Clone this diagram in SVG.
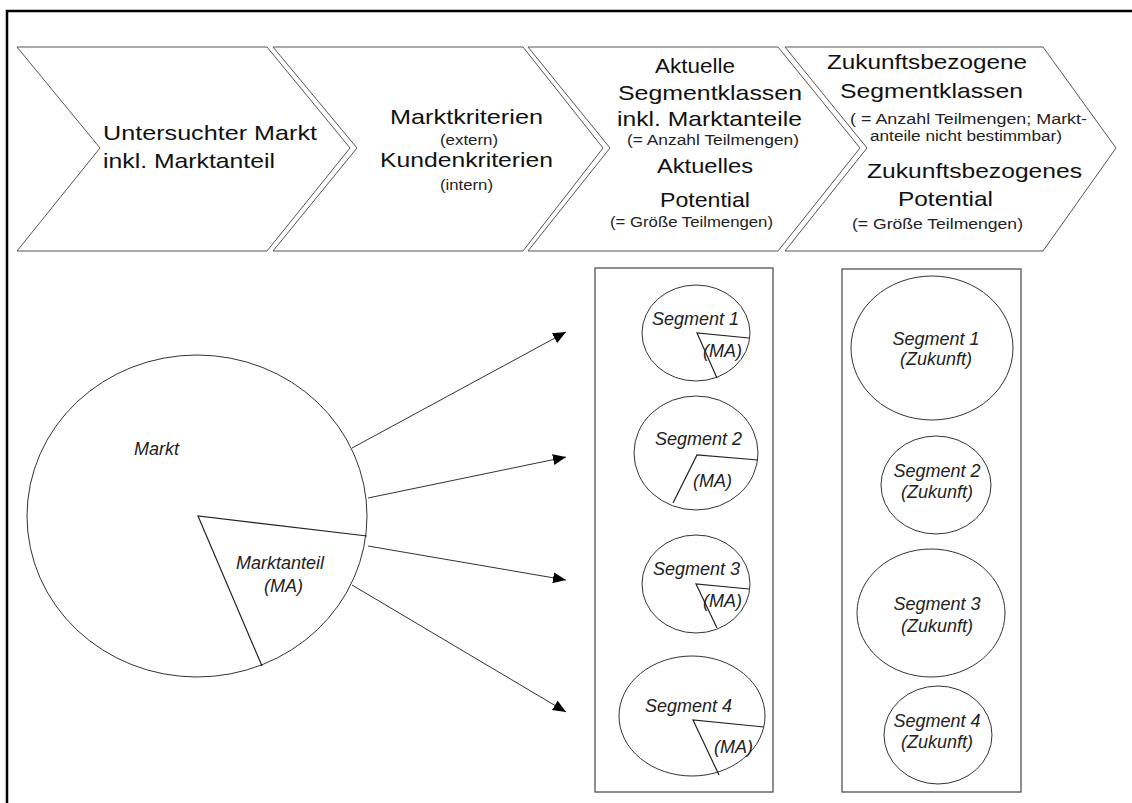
<svg xmlns="http://www.w3.org/2000/svg" width="1132" height="803" viewBox="0 0 1132 803">
<style>
  .bg{fill:#fff}
  .frame{fill:none;stroke:#000;stroke-width:2.5}
  .chev{fill:#fff;stroke:#555;stroke-width:1}
  .shape{fill:#fff;stroke:#333;stroke-width:1}
  .wedge{fill:none;stroke:#222;stroke-width:1.2}
  .box{fill:none;stroke:#444;stroke-width:1.2}
  .conn{fill:none;stroke:#333;stroke-width:1}
  .big{font-family:"Liberation Sans",Arial,sans-serif;font-size:21px;fill:#111}
  .small{font-family:"Liberation Sans",Arial,sans-serif;font-size:14px;fill:#222}
  .it{font-family:"Liberation Sans",Arial,sans-serif;font-size:18px;font-style:italic;fill:#222}
</style>
<defs>
  <marker id="arrow" markerUnits="userSpaceOnUse" markerWidth="14" markerHeight="11" refX="13" refY="5.5" orient="auto">
    <path d="M0,0 L13,5.5 L0,11 z" fill="#000"/>
  </marker>
</defs>
<rect class="bg" x="0" y="0" width="1132" height="803"/>
<rect id="frame" class="frame" x="7" y="11" width="1140" height="810"/>

<g id="chevron-1">
  <polygon class="chev" points="17,47 267,47 350,148 267,251 17,251 100,148"/>
  <text class="big" x="103" y="140" textLength="214" lengthAdjust="spacingAndGlyphs">Untersuchter Markt</text>
  <text class="big" x="103" y="168" textLength="172" lengthAdjust="spacingAndGlyphs">inkl. Marktanteil</text>
</g>
<g id="chevron-2">
  <polygon class="chev" points="273,47 523,47 603,148 523,251 273,251 357,148"/>
  <text class="big" x="390" y="124" textLength="153" lengthAdjust="spacingAndGlyphs">Marktkriterien</text>
  <text class="small" x="440" y="145" textLength="58" lengthAdjust="spacingAndGlyphs">(extern)</text>
  <text class="big" x="380" y="167" textLength="173" lengthAdjust="spacingAndGlyphs">Kundenkriterien</text>
  <text class="small" x="440" y="190" textLength="53" lengthAdjust="spacingAndGlyphs">(intern)</text>
</g>
<g id="chevron-3">
  <polygon class="chev" points="528,47 778,47 860,148 778,251 528,251 610,148"/>
  <text class="big" x="655" y="73" textLength="80" lengthAdjust="spacingAndGlyphs">Aktuelle</text>
  <text class="big" x="618" y="100" textLength="184" lengthAdjust="spacingAndGlyphs">Segmentklassen</text>
  <text class="big" x="617" y="126" textLength="185" lengthAdjust="spacingAndGlyphs">inkl. Marktanteile</text>
  <text class="small" x="627" y="145" textLength="172" lengthAdjust="spacingAndGlyphs">(= Anzahl Teilmengen)</text>
  <text class="big" x="657" y="173" textLength="96" lengthAdjust="spacingAndGlyphs">Aktuelles</text>
  <text class="big" x="660" y="207" textLength="90" lengthAdjust="spacingAndGlyphs">Potential</text>
  <text class="small" x="610" y="227" textLength="163" lengthAdjust="spacingAndGlyphs">(= Größe Teilmengen)</text>
</g>
<g id="chevron-4">
  <polygon class="chev" points="785,47 1043,47 1116,148 1043,251 785,251 867,148"/>
  <text class="big" x="827" y="69" textLength="200" lengthAdjust="spacingAndGlyphs">Zukunftsbezogene</text>
  <text class="big" x="840" y="98" textLength="183" lengthAdjust="spacingAndGlyphs">Segmentklassen</text>
  <text class="small" x="850" y="124" textLength="237" lengthAdjust="spacingAndGlyphs">( = Anzahl Teilmengen; Markt-</text>
  <text class="small" x="870" y="141" textLength="192" lengthAdjust="spacingAndGlyphs">anteile nicht bestimmbar)</text>
  <text class="big" x="867" y="178" textLength="215" lengthAdjust="spacingAndGlyphs">Zukunftsbezogenes</text>
  <text class="big" x="898" y="206" textLength="95" lengthAdjust="spacingAndGlyphs">Potential</text>
  <text class="small" x="852" y="229" textLength="171" lengthAdjust="spacingAndGlyphs">(= Größe Teilmengen)</text>
</g>

<g id="markt">
  <ellipse class="shape" cx="197" cy="516" rx="170" ry="161"/>
  <polyline class="wedge" points="367,536 198,516 262,666"/>
  <text class="it" x="134" y="455">Markt</text>
  <text class="it" x="236" y="569">Marktanteil</text>
  <text class="it" x="264" y="592">(MA)</text>
</g>

<g id="connectors">
  <line class="conn" x1="352" y1="448" x2="566" y2="332" marker-end="url(#arrow)"/>
  <line class="conn" x1="368" y1="498" x2="566" y2="457" marker-end="url(#arrow)"/>
  <line class="conn" x1="368" y1="546" x2="566" y2="580" marker-end="url(#arrow)"/>
  <line class="conn" x1="352" y1="585" x2="566" y2="712" marker-end="url(#arrow)"/>
</g>

<g id="box-current">
  <rect class="box" x="595" y="268" width="178" height="524"/>
</g>
<g id="segment-1">
  <ellipse class="shape" cx="696" cy="333" rx="54" ry="48"/>
  <polyline class="wedge" points="749,338 697,333 717,378"/>
  <text class="it" x="652" y="325">Segment 1</text>
  <text class="it" x="703" y="357">(MA)</text>
</g>
<g id="segment-2">
  <ellipse class="shape" cx="696" cy="453" rx="62" ry="57"/>
  <polyline class="wedge" points="758,460 697,455 673,503"/>
  <text class="it" x="655" y="445">Segment 2</text>
  <text class="it" x="693" y="487">(MA)</text>
</g>
<g id="segment-3">
  <ellipse class="shape" cx="696" cy="584" rx="54" ry="49"/>
  <polyline class="wedge" points="749,589 696,584 717,628"/>
  <text class="it" x="653" y="575">Segment 3</text>
  <text class="it" x="703" y="607">(MA)</text>
</g>
<g id="segment-4">
  <ellipse class="shape" cx="692" cy="716" rx="73" ry="60"/>
  <polyline class="wedge" points="764,727 693,720 719,775"/>
  <text class="it" x="645" y="712">Segment 4</text>
  <text class="it" x="714" y="753">(MA)</text>
</g>

<g id="box-future">
  <rect class="box" x="842" y="269" width="179" height="523"/>
</g>
<g id="future-1">
  <ellipse class="shape" cx="932" cy="348" rx="81" ry="72"/>
  <text class="it" x="936" y="345" text-anchor="middle">Segment 1</text>
  <text class="it" x="936" y="365" text-anchor="middle">(Zukunft)</text>
</g>
<g id="future-2">
  <ellipse class="shape" cx="936" cy="485" rx="55" ry="49"/>
  <text class="it" x="937" y="477" text-anchor="middle">Segment 2</text>
  <text class="it" x="937" y="498" text-anchor="middle">(Zukunft)</text>
</g>
<g id="future-3">
  <ellipse class="shape" cx="931" cy="613" rx="74" ry="64"/>
  <text class="it" x="937" y="610" text-anchor="middle">Segment 3</text>
  <text class="it" x="937" y="632" text-anchor="middle">(Zukunft)</text>
</g>
<g id="future-4">
  <ellipse class="shape" cx="938" cy="735" rx="54" ry="49"/>
  <text class="it" x="937" y="727" text-anchor="middle">Segment 4</text>
  <text class="it" x="937" y="748" text-anchor="middle">(Zukunft)</text>
</g>
</svg>
